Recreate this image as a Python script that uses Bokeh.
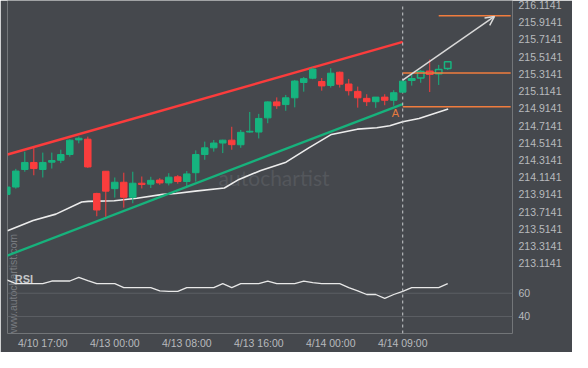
from bokeh.plotting import figure
from bokeh.models import Range1d, FixedTicker, Arrow, OpenHead, ColumnDataSource
from bokeh.core.properties import value
from bokeh.embed import file_html
from bokeh.resources import INLINE
import math

# ---------------- data ----------------
x_tick_idx = [4, 12, 20, 28, 36, 44]
x_tick_labels = ["4/10 17:00", "4/13 00:00", "4/13 08:00", "4/13 16:00", "4/14 00:00", "4/14 09:00"]

price_ticks = [213.1141, 213.3141, 213.5141, 213.7141, 213.9141, 214.1141, 214.3141,
               214.5141, 214.7141, 214.9141, 215.1141, 215.3141, 215.5141, 215.7141,
               215.9141, 216.1141]
price_tick_labels = ["213.1141", "213.3141", "213.5141", "213.7141", "213.9141", "214.1141",
                     "214.3141", "214.5141", "214.7141", "214.9141", "215.1141", "215.3141",
                     "215.5141", "215.7141", "215.9141", "216.1141"]
rsi_ticks = [60, 40]
rsi_tick_labels = ["60", "40"]

opens = [213.9141, 213.9996, 214.2030, 214.2852, 214.2030, 214.2885, 214.3107, 214.3774, 214.5474, 214.5552,
         213.9252, 214.1830, 213.9807, 214.0552, 213.8807, 214.0441, 214.0330, 214.0807, 214.0474, 214.1185,
         214.0641, 214.1663, 214.3774, 214.4552, 214.5107, 214.5441, 214.4907, 214.6385, 214.6385, 214.8030,
         214.9885, 214.9574, 215.0363, 215.2141, 215.2641, 215.2252, 215.1796, 215.3330, 215.1963, 215.1107,
         215.0296, 214.9907, 215.0441, 215.0074, 215.1019, 215.2407, 215.2663, 215.3441, 215.3141, 215.3774]
highs = [214.0107, 214.2107, 214.4107, 214.4552, 214.3996, 214.3996, 214.4330, 214.5552, 214.5852, 214.5852,
         213.9330, 214.1830, 214.1107, 214.1663, 214.1774, 214.1219, 214.1185, 214.1030, 214.1607, 214.1385,
         214.1852, 214.4252, 214.5274, 214.5463, 214.5496, 214.6996, 214.6630, 214.8719, 214.8496, 214.9941,
         215.0407, 215.0696, 215.2441, 215.2774, 215.3885, 215.2663, 215.3796, 215.3407, 215.2552, 215.1663,
         215.0774, 215.0441, 215.0774, 215.1241, 215.2330, 215.3141, 215.3585, 215.4807, 215.4185, 215.4630]
lows = [213.9052, 213.9807, 214.1774, 214.1363, 214.1107, 214.2141, 214.2774, 214.3519, 214.5074, 214.2219,
        213.6607, 213.6552, 213.8774, 213.7607, 213.8107, 213.9830, 213.9885, 214.0252, 214.0185, 214.0385,
        214.0074, 214.0630, 214.3163, 214.4107, 214.3941, 214.4330, 214.4552, 214.6307, 214.5641, 214.7407,
        214.9074, 214.8852, 214.9252, 215.1074, 215.2519, 215.1185, 215.1552, 215.1552, 215.0630, 214.9219,
        214.9407, 214.9196, 214.9496, 214.9441, 215.0996, 215.1774, 215.2107, 215.1030, 215.1852, 215.3585]
closes = [213.9996, 214.1852, 214.2852, 214.2141, 214.2852, 214.3074, 214.3774, 214.5441, 214.5663, 214.2330,
          213.7330, 213.9519, 214.0552, 213.8807, 214.0441, 214.0296, 214.0774, 214.0474, 214.1141, 214.0641,
          214.1519, 214.3774, 214.4552, 214.5107, 214.5441, 214.4919, 214.6352, 214.6474, 214.7963, 214.9885,
          214.9441, 215.0363, 215.2307, 215.2585, 215.3696, 215.1741, 215.3219, 215.1941, 215.1185, 215.0363,
          214.9907, 215.0441, 215.0074, 215.0952, 215.2296, 215.2574, 215.3407, 215.3107, 215.3663, 215.4552]

rsi = [71.5, 68.2, 68.2, 68.2, 68.2, 70.5, 70.5, 70.5, 73.7, 70.9,
       68.2, 68.2, 68.2, 64.9, 64.9, 64.9, 64.9, 62.1, 61.6, 61.6,
       64.9, 64.9, 64.9, 64.9, 68.2, 64.9, 68.2, 68.2, 68.2, 70.5,
       68.2, 68.2, 68.2, 70.5, 69.1, 68.2, 68.2, 68.2, 64.9, 62.1,
       58.9, 58.9, 55.6, 58.9, 61.6, 64.9, 64.9, 64.9, 64.9, 68.2]

ma_x = [0.08, 2.92, 5.45, 8.32, 9.05, 11.94, 14.45, 17.34, 18.78, 20.94, 24.18, 25.80,
        28.15, 31.03, 33.56, 36.08, 38.96, 41.12, 42.56, 44.00, 45.81, 49.05]
ma_y = [213.4919, 213.6108, 213.6852, 213.8252, 213.8330, 213.8408, 213.8697, 213.9141,
        213.9252, 213.9519, 213.9885, 214.0885, 214.1885, 214.2885, 214.4552, 214.6108,
        214.6719, 214.6885, 214.7108, 214.7585, 214.7963, 214.9074]

resist_x = [0.08, 44.0]
resist_y = [214.3774, 215.6852]
support_x = [0.04, 44.0]
support_y = [213.2030, 214.9630]

breakout_idx = 44
target_level = 215.9885
target_from = 48.0
breakout_level = 215.3252
support_level = 214.9330
level_to = 56.0
arrow_from = (44.0, 215.2407)
arrow_to = (54.2, 215.9808)
point_a = (43.2, 214.863)

# ---------------- styling ----------------
BG = "#45484d"
GREEN = "#16b47f"
RED = "#fa3d3d"
ORANGE = "#f07c3e"
TXT = "#b8babd"
FONT = "Liberation Sans"

X0, X1 = 0.076, 56.2
Y0, Y1 = 212.2985, 216.1663
R0, R1 = 25.35, 311.85

p = figure(width=572, height=352, output_backend="svg", toolbar_location=None,
           x_range=Range1d(X0, X1), y_range=Range1d(Y0, Y1), y_axis_location="right",
           min_border_left=7, min_border_right=60, min_border_top=0, min_border_bottom=19,
           background_fill_color=BG, border_fill_color=BG, outline_line_color=None)
p.extra_y_ranges = {"rsi": Range1d(R0, R1)}
p.grid.visible = False

# axes
yax = p.yaxis[0]
rsi_pos = [round(Y0 + (r - R0) / (R1 - R0) * (Y1 - Y0), 6) for r in rsi_ticks]
yax.ticker = FixedTicker(ticks=price_ticks + rsi_pos)
overrides = {t: l for t, l in zip(price_ticks, price_tick_labels)}
overrides.update({t: l for t, l in zip(rsi_pos, rsi_tick_labels)})
yax.major_label_overrides = overrides
yax.axis_line_color = None
yax.major_tick_line_color = None
yax.minor_tick_line_color = None
yax.major_tick_out = 0
yax.major_label_standoff = 6
yax.major_label_text_color = TXT
yax.major_label_text_font = FONT
yax.major_label_text_font_size = "10.5px"

xax = p.xaxis[0]
xax.ticker = FixedTicker(ticks=x_tick_idx)
xax.major_label_overrides = {t: l for t, l in zip(x_tick_idx, x_tick_labels)}
xax.axis_line_color = None
xax.major_tick_line_color = None
xax.minor_tick_line_color = None
xax.major_tick_out = 0
xax.major_label_standoff = 3
xax.major_label_text_color = TXT
xax.major_label_text_font = FONT
xax.major_label_text_font_size = "10.5px"

# watermarks
p.text(x=[29.7], y=[214.1107], text=["autochartist"], text_font=value("Lato"),
       text_font_size="21px", text_color="#54575c", text_align="center",
       text_baseline="middle", level="underlay")
p.text(x=[0.72], y=[212.8607], text=["www.autochartist.com"], angle=math.pi / 2,
       text_font=value(FONT), text_font_size="10.5px", text_color="#787b80",
       text_align="center", text_baseline="middle", level="underlay")

# RSI grid and line
for r in rsi_ticks:
    p.segment(x0=[X0], x1=[X1], y0=[r], y1=[r], y_range_name="rsi",
              line_color="#5c5f64", line_width=1)
idx = list(range(len(opens)))
p.line(idx, rsi, y_range_name="rsi", line_color="#e8e8e8", line_width=1.3)
p.text(x=[1.9], y=[72.6], text=["RSI"], y_range_name="rsi", text_font=value(FONT),
       text_font_style="bold", text_font_size="11px", text_color="#c4c6c8",
       text_align="center", text_baseline="middle")

# moving average
p.line(ma_x, ma_y, line_color="#ececec", line_width=1.6)

# trend lines
p.line(resist_x, resist_y, line_color="#fb3c3c", line_width=2.4)
p.line(support_x, support_y, line_color="#17b27c", line_width=2.4)

# breakout time marker
p.segment(x0=[breakout_idx], x1=[breakout_idx], y0=[Y0], y1=[216.1141],
          line_color="#c9cbcd", line_width=1, line_dash="3 3")

# candles
colors = [GREEN if c >= o else RED for o, c in zip(opens, closes)]
hollow = [i > breakout_idx for i in idx]
src = ColumnDataSource(dict(
    x=idx, o=opens, h=highs, l=lows, c=closes,
    top=[max(o, c) for o, c in zip(opens, closes)],
    bot=[min(o, c) for o, c in zip(opens, closes)],
    col=colors,
    fill=[BG if hw else col for hw, col in zip(hollow, colors)],
    lw=[1.5 if hw else 1 for hw in hollow],
))
p.segment(x0="x", x1="x", y0="l", y1="h", line_color="col", line_width=1, source=src)
p.vbar(x="x", width=0.72, top="top", bottom="bot", fill_color="fill",
       line_color="col", line_width="lw", source=src)

# levels
p.segment(x0=[target_from, breakout_idx, breakout_idx], x1=[level_to, level_to, level_to],
          y0=[target_level, breakout_level, support_level],
          y1=[target_level, breakout_level, support_level],
          line_color=ORANGE, line_width=1.5)

# forecast arrow
p.add_layout(Arrow(x_start=arrow_from[0], y_start=arrow_from[1],
                   x_end=arrow_to[0], y_end=arrow_to[1],
                   line_color="#d9d9d9", line_width=1.5,
                   end=OpenHead(size=9, line_color="#d9d9d9", line_width=1.5)))

p.text(x=[point_a[0]], y=[point_a[1]], text=["A"], text_font=value(FONT),
       text_font_size="11px", text_color="#e57b3f", text_align="center",
       text_baseline="middle")

open("out.html", "w").write(file_html(p, INLINE))
